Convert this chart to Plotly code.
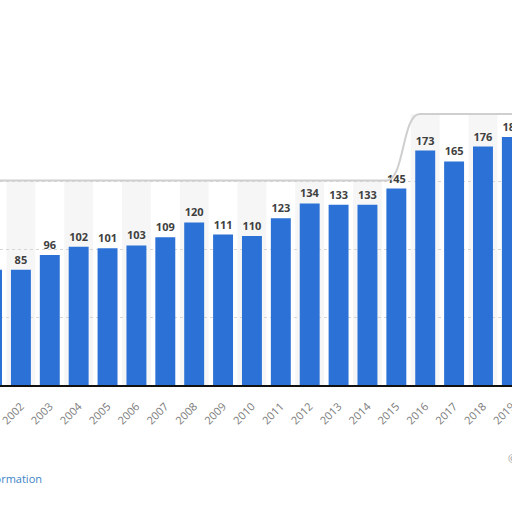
import plotly.graph_objs as go

# Jahre und Werte
years = ["2001", "2002", "2003", "2004", "2005", "2006", "2007", "2008", "2009", "2010",
         "2011", "2012", "2013", "2014", "2015", "2016", "2017", "2018", "2019"]
values = [85, 85, 96, 102, 101, 103, 109, 120, 111, 110,
          123, 134, 133, 133, 145, 173, 165, 176, 183]

fig = go.Figure(data=[go.Bar(
    x=years,
    y=values,
    marker=dict(color="#2b71d6", line=dict(width=0)),
    text=[str(v) for v in values],
    textposition="outside",
    textfont=dict(family="Open Sans", size=11, color="#3f3f3f", weight="bold"),
    cliponaxis=False,
    width=0.69,
)])

# abwechselnde Hintergrundstreifen (oben durch den grauen Rand begrenzt)
shapes = []
for i in range(1, len(years), 2):
    shapes.append(dict(
        type="rect", xref="x", yref="paper",
        x0=i - 0.5, x1=i + 0.5, y0=0, y1=0.755 if i < 14 else 1,
        fillcolor="#f6f6f6", line=dict(width=0), layer="below",
    ))

# grauer Rand oben (Überlagerung im Bild)
shapes.append(dict(
    type="path", xref="paper", yref="paper",
    path="M 0,0.755 L 0.755,0.755 C 0.79,0.755 0.785,1.0 0.82,1.0 L 1,1.0",
    line=dict(color="#cfcfcf", width=2), layer="above",
))

fig.update_layout(
    width=512,
    height=512,
    template=None,
    plot_bgcolor="white",
    paper_bgcolor="white",
    showlegend=False,
    margin=dict(t=114, b=127, l=0, r=0),
    shapes=shapes,
    bargap=0.31,
    xaxis=dict(
        type="category",
        range=[0.276, 18.005],
        tickangle=-45,
        tickfont=dict(family="Open Sans", size=11, color="#7a7a7a"),
        ticklabelstandoff=9,
        showline=True,
        linecolor="#111111",
        linewidth=1.5,
        showgrid=False,
        ticks="",
    ),
    yaxis=dict(
        range=[0, 200],
        dtick=50,
        showticklabels=False,
        showgrid=True,
        gridcolor="#d6d6d6",
        griddash="dot",
        gridwidth=1,
        zeroline=False,
        showline=False,
    ),
    annotations=[
        dict(text="Additional Information", xref="paper", yref="paper",
             x=0.085, y=-0.345, xanchor="right", yanchor="middle", showarrow=False,
             font=dict(family="Open Sans", size=11, color="#3a84c8")),
        dict(text="©", xref="paper", yref="paper",
             x=1.0, y=-0.27, xanchor="left", yanchor="middle", showarrow=False,
             xshift=-6,
             font=dict(family="Open Sans", size=11, color="#999999")),
    ],
)

# Seitenrand entfernen, damit die Grafik genau ins Fenster passt
fig.write_html("out.html", config={"displayModeBar": False},
               post_script="document.body.style.margin='0';")
